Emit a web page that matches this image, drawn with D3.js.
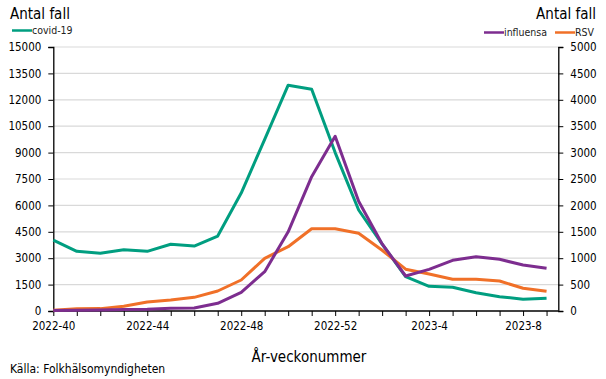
<!DOCTYPE html>
<html><head><meta charset="utf-8">
<script src="https://cdn.jsdelivr.net/npm/d3@7"></script>
<style>body{margin:0;background:#fff}svg{display:block}</style>
</head><body><svg id="c" width="606" height="379"></svg>
<script>
const weeks = ["2022-40","2022-41","2022-42","2022-43","2022-44","2022-45","2022-46","2022-47","2022-48","2022-49","2022-50","2022-51","2022-52","2023-1","2023-2","2023-3","2023-4","2023-5","2023-6","2023-7","2023-8","2023-9"];
const tickLabels = ["2022-40","2022-44","2022-48","2022-52","2023-4","2023-8"];
const covid = [4030,3390,3280,3480,3390,3790,3690,4260,6700,9750,12830,12600,9000,5740,3800,1950,1400,1345,1040,815,665,720];
const influensa = [10,15,20,30,35,50,57,146,354,745,1500,2544,3310,2080,1270,663,789,960,1029,979,871,808];
const rsv = [15,44,45,89,170,208,259,379,587,998,1218,1559,1559,1471,1150,792,700,600,600,568,430,373];
const leftTicks = [0,1500,3000,4500,6000,7500,9000,10500,12000,13500,15000];
const rightTicks = [0,500,1000,1500,2000,2500,3000,3500,4000,4500,5000];
const colors = {covid:"#009E80", influensa:"#7D2D8F", rsv:"#F07028"};

const FONT = "'DejaVu Sans Condensed','DejaVu Sans',sans-serif";
const svg = d3.select("#c").style("font-family", FONT);
const L = 53.3, R = 558.3, T = 47, B = 311;
const x = d3.scaleLinear().domain([0, weeks.length - 0.5]).range([L, R]);
const yl = d3.scaleLinear().domain([0, 15000]).range([B, T]);
const yr = d3.scaleLinear().domain([0, 5000]).range([B, T]);

// gridlines
svg.append("g").selectAll("line").data(leftTicks.slice(1)).join("line")
  .attr("x1", L).attr("x2", R).attr("y1", d => yl(d)).attr("y2", d => yl(d))
  .attr("stroke", "#d9d9d9").attr("stroke-width", 1.2);

// left axis
const gl = svg.append("g").attr("transform", `translate(${L},0)`)
  .call(d3.axisLeft(yl).tickValues(leftTicks).tickSize(5).tickPadding(7).tickFormat(d3.format("d")));
// right axis
const gr = svg.append("g").attr("transform", `translate(${R},0)`)
  .call(d3.axisRight(yr).tickValues(rightTicks).tickSize(5).tickPadding(7).tickFormat(d3.format("d")));
// bottom axis
const gb = svg.append("g").attr("transform", `translate(0,${B})`)
  .call(d3.axisBottom(x).tickValues(d3.range(weeks.length)).tickSize(5).tickPadding(6)
    .tickFormat(i => tickLabels.includes(weeks[i]) ? weeks[i] : ""));
gb.select(".domain").attr("d", `M${L},0H${R}`);
[gl, gr, gb].forEach(g => {
  g.selectAll("text").attr("font-size", 11.5).attr("fill", "#000").attr("font-family", FONT);
  g.selectAll("line").attr("stroke", "#000");
  g.select(".domain").attr("stroke", "#000").attr("stroke-width", 1.3);
});

// lines
const mk = (ys) => d3.line().x((d, i) => x(i)).y(d => ys(d));
[[covid, yl, colors.covid], [rsv, yr, colors.rsv], [influensa, yr, colors.influensa]].forEach(([data, ys, c]) => {
  svg.append("path").datum(data).attr("d", mk(ys)).attr("fill", "none")
    .attr("stroke", c).attr("stroke-width", 3).attr("stroke-linejoin", "round");
});

// axis titles
svg.append("text").attr("x", 10).attr("y", 19).attr("font-size", 15).text("Antal fall");
svg.append("text").attr("x", 596).attr("y", 19).attr("font-size", 15).attr("text-anchor", "end").text("Antal fall");
svg.append("text").attr("x", 309).attr("y", 362).attr("font-size", 15).attr("text-anchor", "middle").text("År-veckonummer");
svg.append("text").attr("x", 10).attr("y", 373).attr("font-size", 12).text("Källa: Folkhälsomyndigheten");

// legends
const leg = [
  {name: "covid-19", c: colors.covid, x1: 12, x2: 32, y: 30.5},
  {name: "influensa", c: colors.influensa, x1: 484, x2: 504, y: 32.5},
  {name: "RSV", c: colors.rsv, x1: 555, x2: 575, y: 32.5}
];
leg.forEach(l => {
  svg.append("line").attr("x1", l.x1).attr("x2", l.x2).attr("y1", l.y).attr("y2", l.y)
    .attr("stroke", l.c).attr("stroke-width", 2.5);
  svg.append("text").attr("x", l.x2).attr("y", l.y + 3.7).attr("font-size", 10.5).attr("fill", "#222").text(l.name);
});
</script></body></html>
